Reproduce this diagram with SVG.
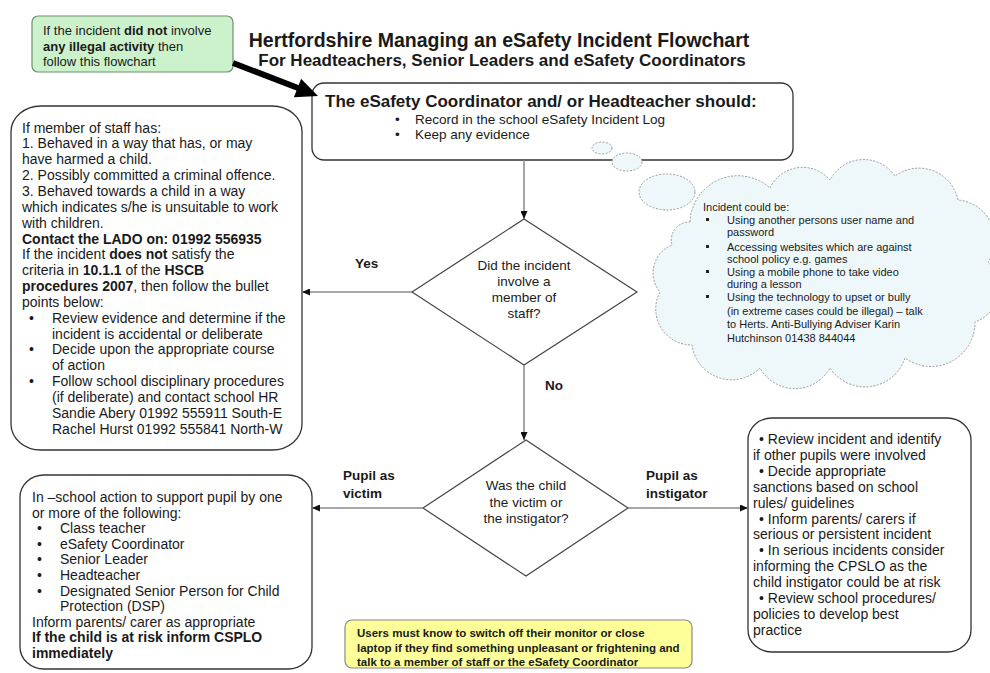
<svg xmlns="http://www.w3.org/2000/svg" width="990" height="673" viewBox="0 0 990 673" xml:space="preserve">
<style>
text{font-family:"Liberation Sans",Arial,sans-serif;fill:#1a1a1a}
.box{fill:#fff;stroke:#333;stroke-width:1.3}
.dia{fill:#fff;stroke:#444;stroke-width:1.2}
.t14{font-size:14px}
.t135{font-size:13.5px}
.t11{font-size:11px}
.b{font-weight:bold}
.lbl{font-size:13.5px;font-weight:bold}
.conn{stroke:#8a8a8a;stroke-width:1.5;fill:none}
.cloud{fill:#eef8fa;stroke:#9a9a9a;stroke-width:1;stroke-dasharray:2,1.5}
.mid{text-anchor:middle}
</style>
<defs>
<marker id="ah" markerWidth="8" markerHeight="7" refX="8" refY="3.5" orient="auto" markerUnits="userSpaceOnUse">
<path d="M0,0 L8,3.5 L0,7 z" fill="#111"/>
</marker>
</defs>
<rect width="990" height="673" fill="#fff"/>

<g id="title">
<text x="499" y="47" class="mid b" font-size="19.5">Hertfordshire Managing an eSafety Incident Flowchart</text>
<text x="502" y="66" class="mid b" font-size="17">For Headteachers, Senior Leaders and eSafety Coordinators</text>
</g>

<g id="note-green">
<rect x="32" y="16" width="201" height="56" rx="6" fill="#ccf2cc" stroke="#6f8f6f" stroke-width="1.2"/>
<text x="43" y="35" font-size="13">If the incident <tspan class="b">did not</tspan> involve</text>
<text x="43" y="50.5" font-size="13"><tspan class="b">any illegal activity</tspan> then</text>
<text x="43" y="66" font-size="13">follow this flowchart</text>
</g>

<g id="coordinator-box">
<rect class="box" x="312" y="83" width="481" height="77" rx="12"/>
<text x="325" y="107" class="b" font-size="17">The eSafety Coordinator and/ or Headteacher should:</text>
<text x="395" y="124" class="t135">•</text>
<text x="415" y="124" class="t135">Record in the school eSafety Incident Log</text>
<text x="395" y="139" class="t135">•</text>
<text x="415" y="139" class="t135">Keep any evidence</text>
</g>

<g id="cloud">
<ellipse class="cloud" cx="602" cy="148" rx="10" ry="6"/>
<ellipse class="cloud" cx="627" cy="162" rx="15" ry="9"/>
<ellipse class="cloud" cx="667" cy="192" rx="28" ry="18"/>
<path class="cloud" d="M690,222 A48,48 0 0,1 770,188 A36,36 0 0,1 830,180 A38,38 0 0,1 895,176 A40,40 0 0,1 958,200 A40,40 0 0,1 988,262 A36,36 0 0,1 975,322 A44,44 0 0,1 905,358 A42,42 0 0,1 830,368 A40,40 0 0,1 760,368 A40,40 0 0,1 692,345 A36,36 0 0,1 660,292 A30,30 0 0,1 672,245 A18,18 0 0,1 690,222 z"/>
<text x="703" y="211" class="t11">Incident could be:</text>
<rect x="706" y="218" width="3" height="3" fill="#222"/>
<text x="727" y="224" class="t11">Using another persons user name and</text>
<text x="727" y="236" class="t11">password</text>
<rect x="706" y="245" width="3" height="3" fill="#222"/>
<text x="727" y="251" class="t11">Accessing websites which are against</text>
<text x="727" y="263" class="t11">school policy e.g. games</text>
<rect x="706" y="270" width="3" height="3" fill="#222"/>
<text x="727" y="276" class="t11">Using a mobile phone to take video</text>
<text x="727" y="288" class="t11">during a lesson</text>
<rect x="706" y="295" width="3" height="3" fill="#222"/>
<text x="727" y="301" class="t11">Using the technology to upset or bully</text>
<text x="727" y="315" class="t11">(in extreme cases could be illegal) – talk</text>
<text x="727" y="328" class="t11">to Herts. Anti-Bullying Adviser Karin</text>
<text x="727" y="342" class="t11">Hutchinson  01438 844044</text>
</g>

<g id="staff-box">
<rect class="box" x="11" y="106" width="291" height="344" rx="30" ry="26"/>
<text x="22" y="132.5" class="t14">If member of staff has:</text>
<text x="22" y="148.4" class="t14">1.  Behaved in a way that has, or may</text>
<text x="22" y="164.2" class="t14">have harmed a child.</text>
<text x="22" y="180.1" class="t14">2.  Possibly committed a criminal offence.</text>
<text x="22" y="195.9" class="t14">3.  Behaved towards a child in a way</text>
<text x="22" y="211.8" class="t14">which indicates s/he is unsuitable to work</text>
<text x="22" y="227.6" class="t14">with children.</text>
<text x="22" y="243.5" class="t14 b">Contact the LADO on:  01992 556935</text>
<text x="22" y="259.3" class="t14">If the incident <tspan class="b">does not</tspan> satisfy the</text>
<text x="22" y="275.2" class="t14">criteria in <tspan class="b">10.1.1</tspan> of the <tspan class="b">HSCB</tspan></text>
<text x="22" y="291" class="t14"><tspan class="b">procedures 2007</tspan>, then follow the bullet</text>
<text x="22" y="306.9" class="t14">points below:</text>
<text x="29" y="322.7" class="t14">•</text>
<text x="52" y="322.7" class="t14">Review evidence and determine if the</text>
<text x="52" y="338.6" class="t14">incident is accidental or deliberate</text>
<text x="29" y="354.4" class="t14">•</text>
<text x="52" y="354.4" class="t14">Decide upon the appropriate course</text>
<text x="52" y="370.3" class="t14">of action</text>
<text x="29" y="386.1" class="t14">•</text>
<text x="52" y="386.1" class="t14">Follow school disciplinary procedures</text>
<text x="52" y="402" class="t14">(if deliberate) and contact school HR</text>
<text x="52" y="417.8" class="t14">Sandie Abery 01992 555911 South-E</text>
<text x="52" y="433.7" class="t14">Rachel Hurst  01992 555841 North-W</text>
</g>

<g id="decision-staff">
<polygon class="dia" points="524,219 637,292 524,365 412,292"/>
<text x="524" y="270" class="t135 mid">Did the incident</text>
<text x="524" y="286" class="t135 mid">involve a</text>
<text x="524" y="302" class="t135 mid">member of</text>
<text x="524" y="318" class="t135 mid">staff?</text>
</g>

<g id="decision-pupil">
<polygon class="dia" points="526,440 628,508 526,576 423,508"/>
<text x="526" y="490" class="t135 mid">Was the child</text>
<text x="526" y="507" class="t135 mid">the victim or</text>
<text x="526" y="523" class="t135 mid">the instigator?</text>
</g>

<g id="victim-box">
<rect class="box" x="20" y="475" width="292" height="194" rx="24" ry="22"/>
<text x="32" y="502" class="t14">In –school action to support pupil by one</text>
<text x="32" y="517.6" class="t14">or more of the following:</text>
<text x="37" y="533.2" class="t14">•</text>
<text x="60" y="533.2" class="t14">Class teacher</text>
<text x="37" y="548.8" class="t14">•</text>
<text x="60" y="548.8" class="t14">eSafety Coordinator</text>
<text x="37" y="564.4" class="t14">•</text>
<text x="60" y="564.4" class="t14">Senior Leader</text>
<text x="37" y="580" class="t14">•</text>
<text x="60" y="580" class="t14">Headteacher</text>
<text x="37" y="595.6" class="t14">•</text>
<text x="60" y="595.6" class="t14">Designated Senior Person for Child</text>
<text x="60" y="611.2" class="t14">Protection (DSP)</text>
<text x="32" y="626.8" class="t14">Inform parents/ carer as appropriate</text>
<text x="32" y="642.4" class="t14 b">If the child is at risk inform CSPLO</text>
<text x="32" y="658" class="t14 b">immediately</text>
</g>

<g id="instigator-box">
<rect class="box" x="748" y="418" width="223" height="234" rx="24" ry="22"/>
<text x="759" y="444" class="t14">•  Review incident and identify</text>
<text x="753" y="459.9" class="t14">if other pupils were involved</text>
<text x="759" y="475.8" class="t14">•  Decide appropriate</text>
<text x="753" y="491.7" class="t14">sanctions based on school</text>
<text x="753" y="507.6" class="t14">rules/ guidelines</text>
<text x="759" y="523.5" class="t14">•  Inform parents/ carers  if</text>
<text x="753" y="539.4" class="t14">serious or persistent incident</text>
<text x="759" y="555.3" class="t14">•  In serious incidents consider</text>
<text x="753" y="571.2" class="t14">informing  the CPSLO as the</text>
<text x="753" y="587.1" class="t14">child instigator could be at risk</text>
<text x="759" y="603" class="t14">•  Review school procedures/</text>
<text x="753" y="618.9" class="t14">policies to  develop best</text>
<text x="753" y="634.8" class="t14">practice</text>
</g>

<g id="note-yellow">
<rect x="345" y="620" width="347" height="48" rx="7" fill="#ffff99" stroke="#888" stroke-width="1.2"/>
<text x="357" y="637" class="b" font-size="11.5" fill="#222">Users must know to switch off their monitor or close</text>
<text x="357" y="651.5" class="b" font-size="11.5" fill="#222">laptop if they find something unpleasant or frightening and</text>
<text x="357" y="666" class="b" font-size="11.5" fill="#222">talk to a member of staff or the eSafety Coordinator</text>
</g>

<g id="connectors">
<line x1="233" y1="63" x2="298" y2="88" stroke="#000" stroke-width="6"/>
<polygon points="318,96 293.9,97.3 301.1,78.7" fill="#000"/>
<line class="conn" x1="524" y1="160" x2="524" y2="219" marker-end="url(#ah)"/>
<line class="conn" x1="412" y1="292" x2="302" y2="292" marker-end="url(#ah)"/>
<line class="conn" x1="524" y1="365" x2="524" y2="440" marker-end="url(#ah)"/>
<line class="conn" x1="423" y1="508" x2="312" y2="508" marker-end="url(#ah)"/>
<line class="conn" x1="628" y1="508" x2="748" y2="508" marker-end="url(#ah)"/>
</g>

<g id="labels">
<text x="355" y="268" class="lbl">Yes</text>
<text x="545" y="390" class="lbl">No</text>
<text x="343" y="480" class="lbl">Pupil as</text>
<text x="343" y="498" class="lbl">victim</text>
<text x="646" y="480" class="lbl">Pupil as</text>
<text x="646" y="498" class="lbl">instigator</text>
</g>
</svg>
